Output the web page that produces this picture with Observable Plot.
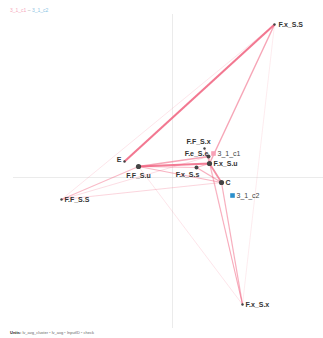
<!DOCTYPE html>
<html><head><meta charset="utf-8">
<script src="https://cdn.jsdelivr.net/npm/d3@7"></script>
<script src="https://cdn.jsdelivr.net/npm/@observablehq/plot@0.6"></script>
<style>
body{margin:0;background:#fff;font-family:"Liberation Sans",Arial,sans-serif;}
#title{height:14px;box-sizing:border-box;padding:7px 0 0 10px;font-size:5px;line-height:6px;white-space:nowrap;}
#chart svg{display:block;}
#cap{height:10px;padding-left:10px;font-size:4px;line-height:10px;color:#666;white-space:nowrap;}
</style></head><body>
<div id="title"><span style="color:#f6a9bd">3_1_c1</span> <span style="color:#aaa">–</span> <span style="color:#8cc4e4">3_1_c2</span></div>
<div id="chart"></div>
<div id="cap"><b style="color:#222">Units:</b> lv_avg_cluster <span style="color:#aaa">▪</span> lv_avg <span style="color:#aaa">▪</span> InputID <span style="color:#aaa">▪</span> check</div>
<script>
// Nodes (biplot coordinates)
const nodeNames = ["F.x_S.S","E","F.F_S.x","F.e_S.e","F.x_S.u","F.F_S.u","F.x_S.s","C","F.F_S.S","F.x_S.x"];
const nodeX     = [1.02, -0.48, 0.32, 0.36, 0.37, -0.34, 0.24, 0.49, -1.11, 0.70];
const nodeY     = [1.53,  0.16, 0.29, 0.21, 0.14,  0.11, 0.10, -0.05, -0.22, -1.27];
const nodeLevel = [1, 1, 1, 2, 3, 3, 2, 3, 1, 1];

// Cluster centroids
const clusterNames = ["3_1_c1","3_1_c2"];
const clusterX     = [0.41, 0.60];
const clusterY     = [0.24, -0.18];

// Edges
const edgeSource = ["E","F.x_S.S","F.x_S.S","F.x_S.S","F.F_S.u","F.F_S.u","F.F_S.u","F.F_S.u","F.F_S.u","F.F_S.u","F.x_S.u","F.x_S.s","F.x_S.s","F.e_S.e","F.F_S.S","F.F_S.S","C","F.x_S.u","F.e_S.e","F.F_S.x"];
const edgeTarget = ["F.x_S.S","F.x_S.u","F.F_S.S","F.x_S.x","F.x_S.u","F.e_S.e","F.x_S.s","C","F.F_S.S","F.x_S.x","C","C","F.x_S.u","F.x_S.u","C","F.e_S.e","F.x_S.x","F.x_S.x","F.x_S.x","F.x_S.u"];
const edgeWeight = [1.0, 0.6, 0.15, 0.1, 0.95, 0.6, 0.4, 0.45, 0.4, 0.15, 0.8, 0.5, 0.4, 0.5, 0.25, 0.2, 0.5, 0.4, 0.2, 0.3];

const idx = Object.fromEntries(nodeNames.map((n,i)=>[n,i]));
const nodes = nodeNames.map((n,i)=>({name:n, x:nodeX[i], y:nodeY[i], level:nodeLevel[i]}));
const clusters = clusterNames.map((n,i)=>({name:n, x:clusterX[i], y:clusterY[i]}));
const edges = edgeSource.map((s,i)=>({
  x1:nodeX[idx[s]], y1:nodeY[idx[s]], x2:nodeX[idx[edgeTarget[i]]], y2:nodeY[idx[edgeTarget[i]]], w:edgeWeight[i]
}));

// label placement (style)
const place = {
  "F.x_S.S":{a:"start",dx:4,dy:0},
  "E":{a:"end",dx:-3,dy:-2},
  "F.F_S.x":{a:"middle",dx:-6,dy:-7},
  "F.e_S.e":{a:"middle",dx:-12,dy:-3},
  "F.x_S.u":{a:"start",dx:4,dy:0},
  "F.F_S.u":{a:"middle",dx:0,dy:9},
  "F.x_S.s":{a:"middle",dx:-9,dy:7},
  "C":{a:"start",dx:4,dy:0},
  "F.F_S.S":{a:"start",dx:3,dy:0},
  "F.x_S.x":{a:"start",dx:3,dy:0}
};
const labelMarks = ["start","middle","end"].flatMap(a => {
  const groups = d3.groups(nodes.filter(d=>place[d.name].a===a), d=>place[d.name].dx+","+place[d.name].dy);
  return groups.map(([k,arr]) => Plot.text(arr, {x:"x", y:"y", text:"name", textAnchor:a,
    dx:place[arr[0].name].dx, dy:place[arr[0].name].dy, fontSize:7, fontWeight:"bold", fill:"#333"}));
});

const chart = Plot.plot({
  width:323, height:314,
  margin:0,
  x:{domain:[-1.72,1.51], range:[0,323], axis:null},
  y:{domain:[-1.51,1.63], range:[314,0], axis:null},
  r:{domain:[1,3], range:[1.2,2.6]},
  style:{fontFamily:"'Liberation Sans', Arial, sans-serif", background:"#fff"},
  marks:[
    Plot.ruleX([0], {y1:-1.51, y2:1.63, stroke:"#ddd", strokeWidth:0.6}),
    Plot.ruleY([0], {x1:-1.59, x2:1.51, stroke:"#ddd", strokeWidth:0.6}),
    Plot.link(edges, {x1:"x1", y1:"y1", x2:"x2", y2:"y2", stroke:"#f0607e",
      strokeWidth:d=>0.4+d.w*1.7, strokeOpacity:d=>0.15+d.w*0.7}),
    Plot.dot(nodes, {x:"x", y:"y", r:"level", fill:"#444", stroke:"none"}),
    Plot.dot(clusters, {x:"x", y:"y", symbol:"square", r:2.6, fill:d=>d.name==="3_1_c1"?"#f7a1b6":"#2b8fcc", stroke:"none"}),
    Plot.text(clusters, {x:"x", y:"y", text:"name", textAnchor:"start", dx:4, fontSize:7, fill:"#444"}),
    ...labelMarks
  ]
});
document.getElementById("chart").appendChild(chart);
</script>
</body></html>
